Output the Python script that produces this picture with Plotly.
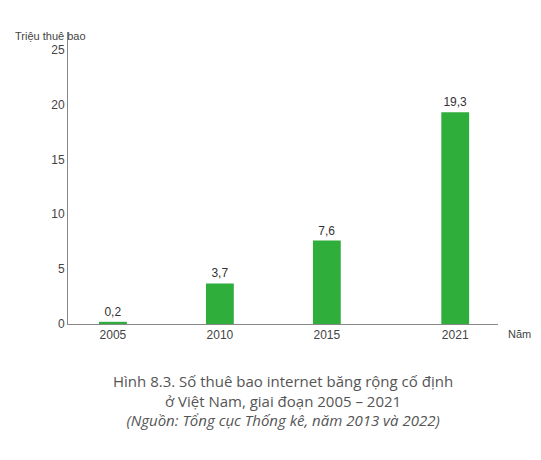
import plotly.graph_objects as go

years = [2005, 2010, 2015, 2021]
subs = [0.2, 3.7, 7.6, 19.3]
labels = ["0,2", "3,7", "7,6", "19,3"]

fig = go.Figure(go.Bar(
    x=years, y=subs, width=1.3,
    text=labels, textposition="outside",
    textfont=dict(size=12, color="#333"),
    marker=dict(color="#2fae3c", line=dict(width=0)),
    cliponaxis=False,
))

fig.update_layout(
    width=541, height=460,
    margin=dict(l=60, r=51, t=24, b=144),
    paper_bgcolor="white", plot_bgcolor="white",
    font=dict(family="Liberation Sans", size=12, color="#444"),
    showlegend=False,
    xaxis=dict(range=[2002.9, 2023], tickvals=years, ticktext=[str(y) for y in years],
               showline=True, linecolor="#888", showgrid=False, ticks="", zeroline=False),
    yaxis=dict(range=[0, 26.6], tickvals=[0, 5, 10, 15, 20, 25],
               showline=True, linecolor="#888", showgrid=False, ticks="", zeroline=False),
    annotations=[
        dict(text="Triệu thuê bao", x=0, y=1.0, xref="paper", yref="paper", xshift=-55, yshift=-4,
             xanchor="left", yanchor="middle", showarrow=False, font=dict(size=11, color="#444")),
        dict(text="Năm", x=1, y=0, xref="paper", yref="paper", xshift=8, yshift=-10,
             xanchor="left", yanchor="middle", showarrow=False, font=dict(size=11, color="#444")),
        dict(text="Hình 8.3. Số thuê bao internet băng rộng cố định<br>ở Việt Nam, giai đoạn 2005 – 2021"
                  "<br><i>(Nguồn: Tổng cục Thống kê, năm 2013 và 2022)</i>",
             x=0.5, y=0, xref="paper", yref="paper", yshift=-45, xanchor="center", yanchor="top",
             showarrow=False, align="center", font=dict(family="Open Sans", size=15, color="#555")),
    ],
)

fig.write_html("out.html")
